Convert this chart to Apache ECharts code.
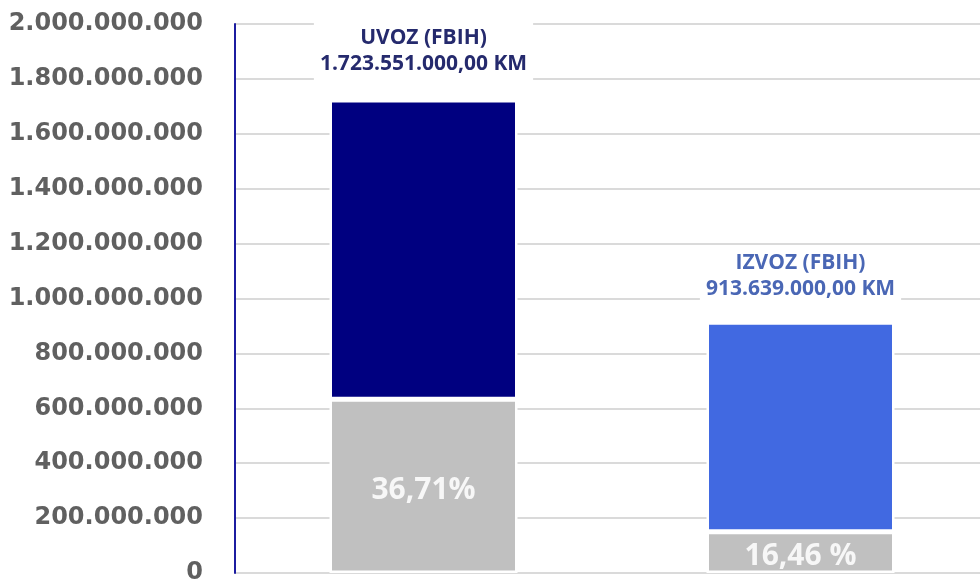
<!DOCTYPE html>
<html>
<head>
<meta charset="utf-8">
<script src="https://cdn.jsdelivr.net/npm/echarts@6/dist/echarts.min.js"></script>
<style>
html, body { margin: 0; padding: 0; background: #fff; }
#main { width: 980px; height: 581px; }
</style>
</head>
<body>
<div id="main"></div>
<script>
var categories = ['UVOZ (FBIH)', 'IZVOZ (FBIH)'];
var totals = [1723551000, 913639000];
var shares = [36.71, 16.46];
var shareLabels = ['36,71%', '16,46 %'];
var totalLabels = ['1.723.551.000,00 KM', '913.639.000,00 KM'];
var topColors = ['#000080', '#4169E1'];
var titleColors = ['#252a6d', '#4a67b5'];
var yTicks = [0, 200000000, 400000000, 600000000, 800000000, 1000000000,
	1200000000, 1400000000, 1600000000, 1800000000, 2000000000];

var myChart = echarts.init(document.getElementById('main'));

// donji (sivi) dio = udio, gornji dio = ostatak
var baseData = [];
var restData = [];
for (var i = 0; i < totals.length; i++) {
	var part = Math.round(totals[i] * shares[i] / 100);
	baseData.push({
		value: part,
		label: { formatter: shareLabels[i] }
	});
	restData.push({
		value: totals[i] - part,
		itemStyle: { color: topColors[i] },
		label: {
			color: titleColors[i],
			formatter: categories[i] + '\n' + totalLabels[i],
			distance: i === 0 ? 20 : 17
		}
	});
}

function fmt(v) {
	return String(v).replace(/\B(?=(\d{3})+(?!\d))/g, '.');
}

var option = {
	animation: false,
	grid: {
		left: 235,
		top: 24,
		bottom: 8,
		width: 754,
		containLabel: false,
		outerBoundsMode: 'none'
	},
	xAxis: {
		type: 'category',
		data: categories,
		axisLine: { show: false },
		axisTick: { show: false },
		axisLabel: { show: false },
		splitLine: { show: false }
	},
	yAxis: {
		type: 'value',
		min: yTicks[0],
		max: yTicks[yTicks.length - 1],
		interval: yTicks[1] - yTicks[0],
		axisLine: {
			show: true,
			lineStyle: { color: '#1c1ca0', width: 2 }
		},
		axisTick: { show: false },
		axisLabel: {
			margin: 32,
			color: '#606060',
			fontFamily: 'DejaVu Sans',
			fontWeight: 'bold',
			fontSize: 24,
			formatter: fmt
		},
		splitLine: {
			lineStyle: { color: '#dadada', width: 2 }
		}
	},
	series: [{
			name: 'udio',
			type: 'bar',
			stack: 'a',
			barWidth: 188,
			itemStyle: {
				color: '#C0C0C0',
				borderColor: '#fff',
				borderWidth: 2.5
			},
			label: {
				show: true,
				position: 'inside',
				offset: [0, 4],
				color: '#f7f7f7',
				fontFamily: 'Open Sans',
				fontWeight: 'bold',
				fontSize: 30
			},
			data: baseData
		},
		{
			name: 'ukupno',
			type: 'bar',
			stack: 'a',
			barWidth: 188,
			itemStyle: {
				borderColor: '#fff',
				borderWidth: 2.5
			},
			label: {
				show: true,
				position: 'top',
				fontFamily: 'Open Sans',
				fontWeight: 'bold',
				fontSize: 21,
				lineHeight: 26,
				backgroundColor: '#fff',
				padding: [3, 6]
			},
			data: restData
		}
	]
};

myChart.setOption(option);
</script>
</body>
</html>
